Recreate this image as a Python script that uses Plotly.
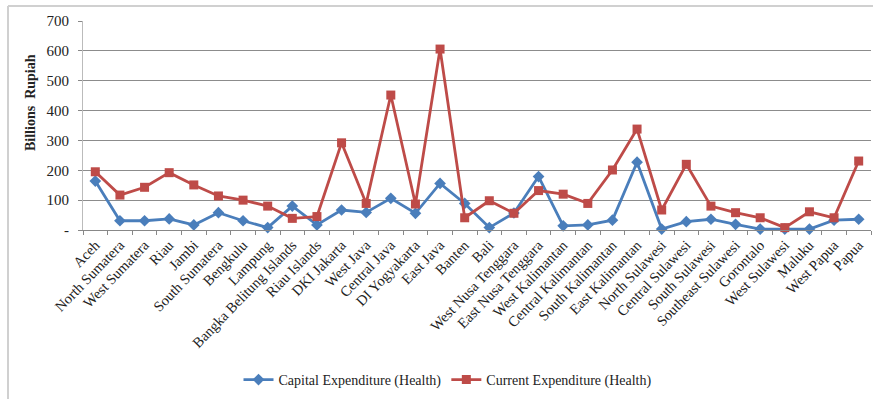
import plotly.graph_objects as go

provinces = ["Aceh", "North Sumatera", "West Sumatera", "Riau", "Jambi", "South Sumatera",
             "Bengkulu", "Lampung", "Bangka Belitung Islands", "Riau Islands", "DKI Jakarta",
             "West Java", "Central Java", "DI Yogyakarta", "East Java", "Banten", "Bali",
             "West Nusa Tenggara", "East Nusa Tenggara", "West Kalimantan", "Central Kalimantan",
             "South Kalimantan", "East Kalimantan", "North Sulawesi", "Central Sulawesi",
             "South Sulawesi", "Southeast Sulawesi", "Gorontalo", "West Sulawesi", "Maluku",
             "West Papua", "Papua"]

capital = [164, 31, 31, 37, 17, 58, 31, 8, 80, 17, 67, 59, 106, 56, 156, 89, 8, 57, 179, 14,
           17, 33, 227, 3, 28, 36, 19, 3, 3, 3, 33, 36]
current = [195, 117, 143, 192, 151, 114, 100, 80, 39, 45, 292, 89, 452, 87, 606, 41, 98, 56, 132, 120,
           89, 201, 338, 67, 220, 80, 58, 41, 8, 61, 41, 231]

y_ticks = [0, 100, 200, 300, 400, 500, 600, 700]
y_ticktext = ["-", "100", "200", "300", "400", "500", "600", "700"]

serif = "Liberation Serif, Times New Roman, serif"
blue = "#4A7EBB"
red = "#BE4B48"

PW = 873 - 83 - 2   # plot width in px
PH = 399 - 21 - 169  # plot height in px

fig = go.Figure()
fig.add_trace(go.Scatter(x=provinces, y=capital, mode="lines+markers",
                         name="Capital Expenditure (Health)",
                         line=dict(color=blue, width=2.8),
                         marker=dict(symbol="diamond", size=9, color=blue),
                         cliponaxis=False))
fig.add_trace(go.Scatter(x=provinces, y=current, mode="lines+markers",
                         name="Current Expenditure (Health)",
                         line=dict(color=red, width=2.8),
                         marker=dict(symbol="square", size=9, color=red),
                         cliponaxis=False))

fig.update_layout(
    width=873, height=399,
    margin=dict(l=83, r=2, t=21, b=169),
    paper_bgcolor="white", plot_bgcolor="white",
    font=dict(family=serif, size=14, color="#222"),
    showlegend=True,
    legend=dict(orientation="h", x=(448 - 83) / PW, xanchor="center",
                y=(230 - 380) / PH, yanchor="middle",
                font=dict(family=serif, size=14, color="#222"),
                itemwidth=30, tracegroupgap=0),
    shapes=[
        dict(type="line", xref="paper", yref="paper", x0=-75 / PW, x1=1.01,
             y0=(230 - 6) / PH, y1=(230 - 6) / PH, line=dict(color="#d0d0d0", width=2)),
        dict(type="line", xref="paper", yref="paper", x0=-75 / PW, x1=-75 / PW,
             y0=(230 - 6) / PH, y1=-1.0, line=dict(color="#d0d0d0", width=2)),
    ],
    annotations=[
        dict(text="<b>Billions  Rupiah</b>", xref="paper", yref="paper",
             x=(30 - 83) / PW, y=(230 - 103) / PH, xanchor="center", yanchor="middle",
             textangle=-90, showarrow=False,
             font=dict(family=serif, size=14, color="#222")),
    ],
)

fig.update_xaxes(type="category", range=[-0.5, len(provinces) - 0.5],
                 tickangle=-46, tickfont=dict(family=serif, size=14.5, color="#222"),
                 showline=True, linecolor="#888", linewidth=1,
                 ticks="outside", tickson="boundaries", ticklen=4, tickcolor="#888",
                 showgrid=False, zeroline=False)
fig.update_yaxes(range=[0, 700], tickvals=y_ticks, ticktext=y_ticktext,
                 tickfont=dict(family=serif, size=15, color="#222"),
                 showgrid=True, gridcolor="#8c8c8c", gridwidth=1,
                 showline=True, linecolor="#bbb", linewidth=1,
                 ticks="outside", ticklen=4, tickcolor="#888",
                 ticklabelstandoff=6,
                 zeroline=False)

fig.write_html("out.html")
